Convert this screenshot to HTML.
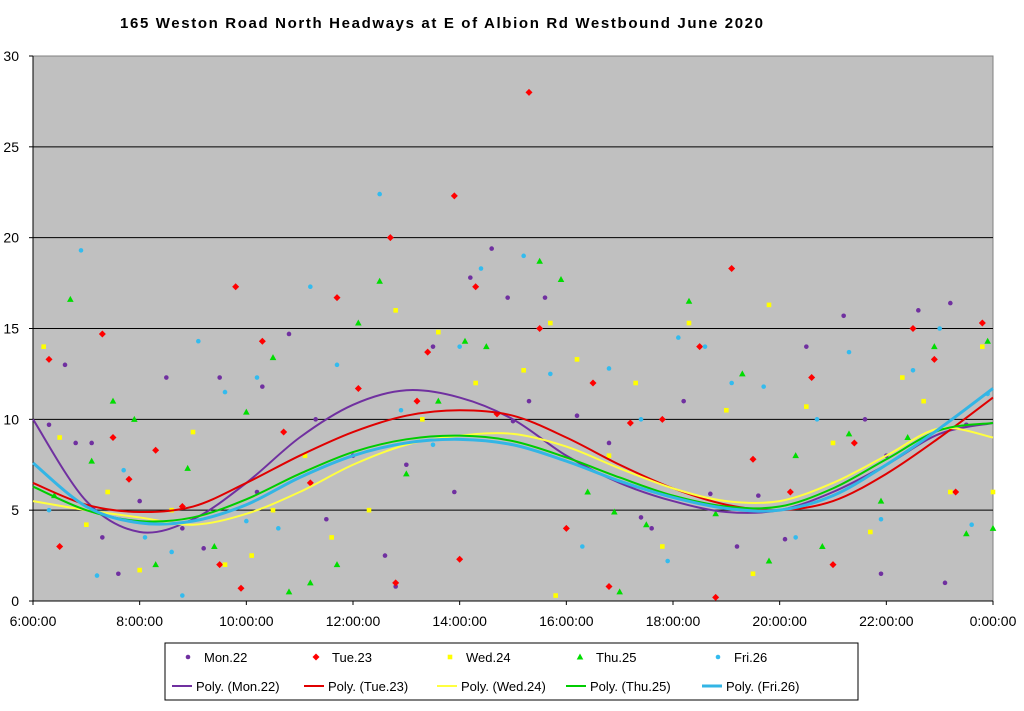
<!DOCTYPE html>
<html><head><meta charset="utf-8"><style>
body{margin:0;background:#fff;}
svg text{font-family:"Liberation Sans",Arial,sans-serif;}
</style></head><body>
<svg id="chart" width="1024" height="706" viewBox="0 0 1024 706" xmlns="http://www.w3.org/2000/svg">
<text x="120" y="28" textLength="643" lengthAdjust="spacing" font-size="15" font-weight="bold">165 Weston Road North Headways  at E of Albion  Rd Westbound  June 2020</text>
<rect x="33" y="56" width="960" height="545" fill="#C0C0C0" stroke="#808080"/>
<g id="grid"></g><g id="axes"></g><g id="points"></g><g id="trends"></g>
<g>
<rect x="165" y="643" width="693" height="57" fill="#fff" stroke="#000"/>
</g>
<g id="legend"></g>
</svg>
<script>
const yTicks=[0,5,10,15,20,25,30];
const xTickHours=[6,8,10,12,14,16,18,20,22,24];
const xTickLabels=["6:00:00","8:00:00","10:00:00","12:00:00","14:00:00","16:00:00","18:00:00","20:00:00","22:00:00","0:00:00"];
const seriesNames=["Mon.22","Tue.23","Wed.24","Thu.25","Fri.26"];
const monPts=[[6.3,9.7],[6.6,13],[6.8,8.7],[7.1,8.7],[7.3,3.5],[7.6,1.5],[8,5.5],[8.5,12.3],[8.8,4],[9.2,2.9],[9.5,12.3],[10.2,6],[10.8,14.7],[11.3,10],[11.5,4.5],[12,8],[12.6,2.5],[13,7.5],[13.5,14],[13.9,6],[14.2,17.8],[14.6,19.4],[14.9,16.7],[15.3,11],[15.6,16.7],[16.2,10.2],[16.8,8.7],[17.4,4.6],[18.2,11],[18.7,5.9],[19.2,3],[19.6,5.8],[20.1,3.4],[20.5,14],[21.2,15.7],[21.6,10],[22,8],[22.6,16],[23.2,16.4],[23.5,9.7],[23.1,1],[21.9,1.5],[17.6,4],[10.3,11.8],[15,9.9],[12.8,0.8]];
const tuePts=[[6.3,13.3],[6.5,3],[7.3,14.7],[7.5,9],[7.8,6.7],[8.3,8.3],[8.8,5.2],[9.5,2],[9.8,17.3],[10.3,14.3],[10.7,9.3],[11.2,6.5],[11.7,16.7],[12.1,11.7],[12.7,20],[13.2,11],[13.4,13.7],[13.9,22.3],[14.3,17.3],[15.3,28],[14.7,10.3],[15.5,15],[16,4],[16.5,12],[17.2,9.8],[17.8,10],[18.5,14],[19.1,18.3],[19.5,7.8],[20.2,6],[20.6,12.3],[21,2],[21.4,8.7],[22.5,15],[22.9,13.3],[23.3,6],[23.8,15.3],[16.8,0.8],[9.9,0.7],[12.8,1],[14,2.3],[18.8,0.2]];
const wedPts=[[6.2,14],[6.5,9],[7,4.2],[7.4,6],[8,1.7],[8.6,5],[9,9.3],[9.6,2],[10.1,2.5],[10.5,5],[11.1,8],[11.6,3.5],[12.3,5],[12.8,16],[13.3,10],[13.6,14.8],[14.3,12],[15.2,12.7],[15.7,15.3],[16.2,13.3],[16.8,8],[17.3,12],[17.8,3],[18.3,15.3],[19,10.5],[19.8,16.3],[20.5,10.7],[21,8.7],[21.7,3.8],[22.3,12.3],[22.7,11],[23.2,6],[23.8,14],[24,6],[19.5,1.5],[15.8,0.3]];
const thuPts=[[6.4,5.8],[6.7,16.6],[7.1,7.7],[7.5,11],[7.9,10],[8.3,2],[8.9,7.3],[9.4,3],[10,10.4],[10.5,13.4],[11.2,1],[11.7,2],[12.1,15.3],[12.5,17.6],[13,7],[13.6,11],[14.1,14.3],[14.5,14],[15.5,18.7],[15.9,17.7],[16.4,6],[16.9,4.9],[17.5,4.2],[18.3,16.5],[18.8,4.8],[19.3,12.5],[19.8,2.2],[20.3,8],[20.8,3],[21.3,9.2],[21.9,5.5],[22.4,9],[22.9,14],[23.5,3.7],[23.9,14.3],[24,4],[17,0.5],[10.8,0.5]];
const friPts=[[6.3,5],[6.9,19.3],[7.2,1.4],[7.7,7.2],[8.1,3.5],[8.6,2.7],[9.1,14.3],[9.6,11.5],[10.2,12.3],[10.6,4],[11.2,17.3],[11.7,13],[12.5,22.4],[12.9,10.5],[13.5,8.6],[14,14],[14.4,18.3],[15.2,19],[15.7,12.5],[16.3,3],[16.8,12.8],[17.4,10],[18.1,14.5],[18.6,14],[19.1,12],[19.7,11.8],[20.3,3.5],[20.7,10],[21.3,13.7],[21.9,4.5],[22.5,12.7],[23,15],[23.6,4.2],[23.9,11.4],[8.8,0.3],[10,4.4],[17.9,2.2]];
const trendHours=[6,7,8,9,10,11,12,13,14,15,16,17,18,19,20,21,22,23,24];
const monTrend=[10,5.5,3.8,4.5,6.5,9,10.8,11.6,11.2,10,8,6.5,5.5,4.9,5,6,7.5,9.2,9.8];
const tueTrend=[6.5,5.3,4.9,5.2,6.5,8,9.3,10.2,10.5,10.2,9,7.5,6.2,5.3,5,5.5,7,9,11.2];
const wedTrend=[5.5,5,4.6,4.2,4.8,6,7.5,8.6,9.1,9.2,8.5,7.3,6.2,5.5,5.5,6.5,8,9.5,9];
const thuTrend=[6.3,5,4.4,4.6,5.6,7,8.2,8.9,9.1,8.8,7.9,6.8,5.8,5.2,5.2,6.2,7.8,9.4,9.8];
const friTrend=[7.6,5.2,4.3,4.4,5.3,6.8,8,8.7,8.9,8.6,7.7,6.6,5.7,5.1,5,5.8,7.5,9.5,11.7];

const NS="http://www.w3.org/2000/svg";
const X0=33,X1=993,Y0=601,Y1=56;
const xs=h=>X0+(h-6)/18*(X1-X0);
const ys=v=>Y0-v/30*(Y0-Y1);
function mk(tag,attrs,parent){const e=document.createElementNS(NS,tag);for(const k in attrs)e.setAttribute(k,attrs[k]);parent.appendChild(e);return e;}
const grid=document.getElementById('grid'),axes=document.getElementById('axes');
yTicks.forEach(v=>{
 if(v>0&&v<30){const l=mk('line',{x1:X0,x2:X1,y1:ys(v),y2:ys(v),stroke:'#000','stroke-width':1},grid);
 }
 const t=mk('text',{x:19,y:ys(v)+5,'text-anchor':'end','font-size':14},axes);t.textContent=v;
 
 mk('line',{x1:X0-4,x2:X0,y1:ys(v),y2:ys(v),stroke:'#000'},axes);
});
mk('line',{x1:X0,x2:X0,y1:Y1,y2:Y0,stroke:'#000'},axes);
mk('line',{x1:X0,x2:X1,y1:Y0,y2:Y0,stroke:'#000'},axes);
xTickHours.forEach((h,i)=>{
 mk('line',{x1:xs(h),x2:xs(h),y1:Y0,y2:Y0+4,stroke:'#000'},axes);
 const t=mk('text',{x:xs(h),y:626,'text-anchor':'middle','font-size':14},axes);t.textContent=xTickLabels[i];
 
});
const colors=['#7030A0','#FF0000','#FFFF00','#00DD00','#33BBEE'];
const lineColors=['#7030A0','#E00000','#FFFF40','#00CC00','#33B5E5'];
const lineW=[2,2,2,2,3];
function marker(kind,x,y,c,p){
 if(kind===0)return mk('circle',{cx:x,cy:y,r:2.3,fill:c},p);
 if(kind===1)return mk('polygon',{points:`${x},${y-3.5} ${x+3.5},${y} ${x},${y+3.5} ${x-3.5},${y}`,fill:c},p);
 if(kind===2)return mk('rect',{x:x-2.3,y:y-2.3,width:4.6,height:4.6,fill:c},p);
 if(kind===3)return mk('polygon',{points:`${x},${y-3.5} ${x+3.3},${y+2.5} ${x-3.3},${y+2.5}`,fill:c},p);
 return mk('circle',{cx:x,cy:y,r:2.3,fill:c},p);
}
const pg=document.getElementById('points');
[monPts,tuePts,wedPts,thuPts,friPts].forEach((pts,s)=>{
 pts.forEach(p=>{const m=marker(s,xs(p[0]),ys(p[1]),colors[s],pg);
 
 });
});
function smooth(vals){
 const P=trendHours.map((h,i)=>[xs(h),ys(vals[i])]);
 let d=`M${P[0][0]},${P[0][1]}`;
 for(let i=0;i<P.length-1;i++){const p0=P[i-1]||P[i],p1=P[i],p2=P[i+1],p3=P[i+2]||P[i+1];
  d+=` C${p1[0]+(p2[0]-p0[0])/6},${p1[1]+(p2[1]-p0[1])/6} ${p2[0]-(p3[0]-p1[0])/6},${p2[1]-(p3[1]-p1[1])/6} ${p2[0]},${p2[1]}`;}
 return d;
}
const tg=document.getElementById('trends');
[monTrend,tueTrend,wedTrend,thuTrend,friTrend].forEach((v,s)=>{
 const p=mk('path',{d:smooth(v),fill:'none',stroke:lineColors[s],'stroke-width':lineW[s]},tg);
 
 
});
const lg=document.getElementById('legend');
const lx=[182,310,444,574,712];
seriesNames.forEach((n,s)=>{
 const m=marker(s,lx[s]+6,657,colors[s],lg);
 
 const t=mk('text',{x:lx[s]+22,y:662,'font-size':13},lg);t.textContent=n;
 
 const l=mk('line',{x1:[172,304,437,566,702][s],x2:[172,304,437,566,702][s]+20,y1:686,y2:686,stroke:lineColors[s],'stroke-width':lineW[s]},lg);
 
 const t2=mk('text',{x:[172,304,437,566,702][s]+24,y:691,'font-size':13},lg);t2.textContent='Poly. ('+n+')';
 
});
</script>
</body></html>
